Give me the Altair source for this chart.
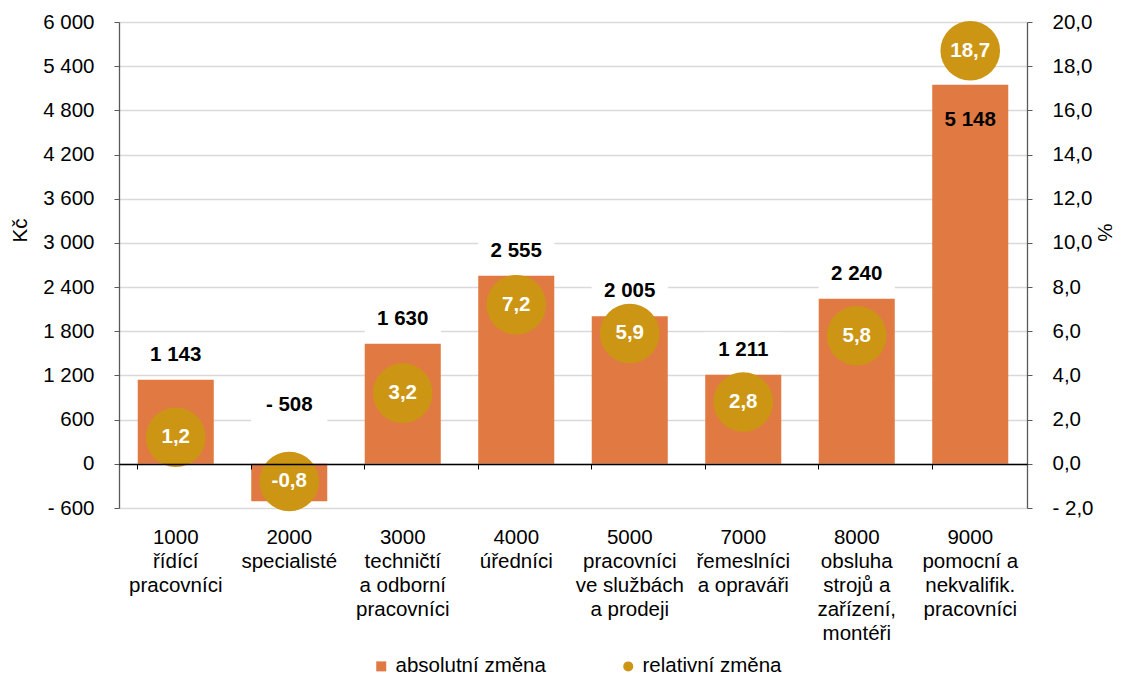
import altair as alt
import pandas as pd

categories = [
    "1000|řídící|pracovníci",
    "2000|specialisté",
    "3000|techničtí|a odborní|pracovníci",
    "4000|úředníci",
    "5000|pracovníci|ve službách|a prodeji",
    "7000|řemeslníci|a opraváři",
    "8000|obsluha|strojů a|zařízení,|montéři",
    "9000|pomocní a|nekvalifik.|pracovníci",
]
absolute_change = [1143, -508, 1630, 2555, 2005, 1211, 2240, 5148]
relative_change = [1.2, -0.8, 3.2, 7.2, 5.9, 2.8, 5.8, 18.7]
series_names = ["absolutní změna", "relativní změna"]

ORANGE = "#E07A42"
GOLD = "#CC9614"
FONT = "Liberation Sans"
FS = 20.5

df = pd.DataFrame({"cat": categories, "abs": absolute_change, "rel": relative_change})

base = alt.Chart(df).transform_calculate(
    lab="(datum.abs < 0 ? '- ' : '') + replace(format(abs(datum.abs), ','), ',', ' ')",
    rlab="(datum.rel < 0 ? '-' : '') + replace(format(abs(datum.rel), '.1f'), '.', ',')",
    series="'relativní změna'",
    zeropos="0",
).transform_joinaggregate(maxabs="max(abs)")

xenc = alt.X(
    "cat:N",
    sort=categories,
    scale=alt.Scale(paddingInner=0.33, paddingOuter=0.165),
    axis=alt.Axis(
        title=None,
        offset=-44,
        domainColor="#000000",
        domainWidth=1.3,
        tickColor="#000000",
        tickSize=5,
        bandPosition=0,
        labelAngle=0,
        labelPadding=58,
        labelBaseline="top",
        labelFontSize=FS,
        labelFont=FONT,
        labelColor="#000000",
        labelLineHeight=24,
        labelExpr="split(datum.label, '|')",
        zindex=1,
        grid=False,
    ),
)

ldom = alt.Scale(domain=[-600, 6000], nice=False, zero=False)
rdom = alt.Scale(domain=[-2, 20], nice=False, zero=False)

left_axis = alt.Axis(
    title="Kč",
    values=list(range(-600, 6001, 600)),
    labelExpr="(datum.value < 0 ? '- ' : '') + replace(format(abs(datum.value), ','), ',', ' ')",
    labelFontSize=FS,
    labelFont=FONT,
    labelColor="#000000",
    labelPadding=20,
    tickSize=5,
    tickColor="#595959",
    domainColor="#595959",
    domainWidth=1.3,
    grid=True,
    gridColor="#D9D9D9",
    gridWidth=1.3,
    titleFontSize=FS,
    titleFont=FONT,
    titleFontWeight="normal",
    titleColor="#000000",
    titleX=-99,
    titleY=208,
    titleAngle=-90,
    titleAlign="center",
    titleBaseline="middle",
)

right_axis = alt.Axis(
    title="%",
    orient="right",
    values=list(range(-2, 21, 2)),
    labelExpr="(datum.value < 0 ? '- ' : '') + replace(format(abs(datum.value), '.1f'), '.', ',')",
    labelFontSize=FS,
    labelFont=FONT,
    labelColor="#000000",
    labelPadding=20,
    tickSize=5,
    tickColor="#595959",
    domainColor="#595959",
    domainWidth=1.3,
    grid=False,
    titleFontSize=FS,
    titleFont=FONT,
    titleFontWeight="normal",
    titleColor="#000000",
    titleX=76,
    titleY=210,
    titleAngle=90,
    titleAlign="center",
    titleBaseline="middle",
)

xs = alt.X("cat:N", sort=categories)

bars = base.mark_bar(color=ORANGE).encode(
    x=xenc,
    y=alt.Y("abs:Q", scale=ldom, axis=left_axis),
)

box_shape = "M-1,-0.46H1V0.46H-1Z"

pos_filter = "datum.abs >= 0 && datum.abs < datum.maxabs"
neg_filter = "datum.abs < 0"
max_filter = "datum.abs == datum.maxabs"

box_pos = base.transform_filter(pos_filter).mark_point(
    shape=box_shape, filled=True, color="white", opacity=1, size=5800, yOffset=-25
).encode(x=xs, y=alt.Y("abs:Q", scale=ldom))

box_neg = base.transform_filter(neg_filter).mark_point(
    shape=box_shape, filled=True, color="white", opacity=1, size=5800, yOffset=-59
).encode(x=xs, y=alt.Y("zeropos:Q", scale=ldom))

txt_style = dict(font=FONT, fontSize=FS, fontWeight="bold", color="#000000",
                 baseline="middle", align="center")

lab_pos = base.transform_filter(pos_filter).mark_text(yOffset=-25, **txt_style).encode(
    x=xs, y=alt.Y("abs:Q", scale=ldom), text="lab:N",
)
lab_neg = base.transform_filter(neg_filter).mark_text(yOffset=-59, **txt_style).encode(
    x=xs, y=alt.Y("zeropos:Q", scale=ldom), text="lab:N",
)
lab_max = base.transform_filter(max_filter).mark_text(yOffset=35, **txt_style).encode(
    x=xs, y=alt.Y("abs:Q", scale=ldom), text="lab:N",
)

legend = alt.Legend(
    title=None,
    orient="none",
    direction="horizontal",
    legendX=252,
    legendY=634,
    labelFontSize=FS,
    labelFont=FONT,
    labelColor="#000000",
    symbolSize=100,
    symbolStrokeWidth=0,
    labelOffset=4,
    columnPadding=72,
)

circles = base.mark_point(filled=True, opacity=1, size=3550).encode(
    x=xs,
    y=alt.Y("rel:Q", scale=rdom, axis=right_axis),
    color=alt.Color("series:N", scale=alt.Scale(domain=series_names, range=[ORANGE, GOLD]), legend=legend),
    shape=alt.Shape("series:N", scale=alt.Scale(domain=series_names, range=["square", "circle"]), legend=legend),
)

circle_lab = base.mark_text(font=FONT, fontSize=FS, fontWeight="bold", color="white",
                            baseline="middle", align="center").encode(
    x=xs, y=alt.Y("rel:Q", scale=rdom), text="rlab:N",
)

left = alt.layer(bars, box_pos, box_neg, lab_pos, lab_neg, lab_max)
right = alt.layer(circles, circle_lab)

chart = alt.layer(left, right).resolve_scale(y="independent").properties(
    width=908,
    height=486,
    background="white",
    autosize=alt.AutoSizeParams(type="none"),
    padding={"left": 111, "top": 14, "right": 90, "bottom": 172},
).configure_view(stroke=None)

chart.save("out.html", embed_options={"renderer": "svg", "actions": False})
